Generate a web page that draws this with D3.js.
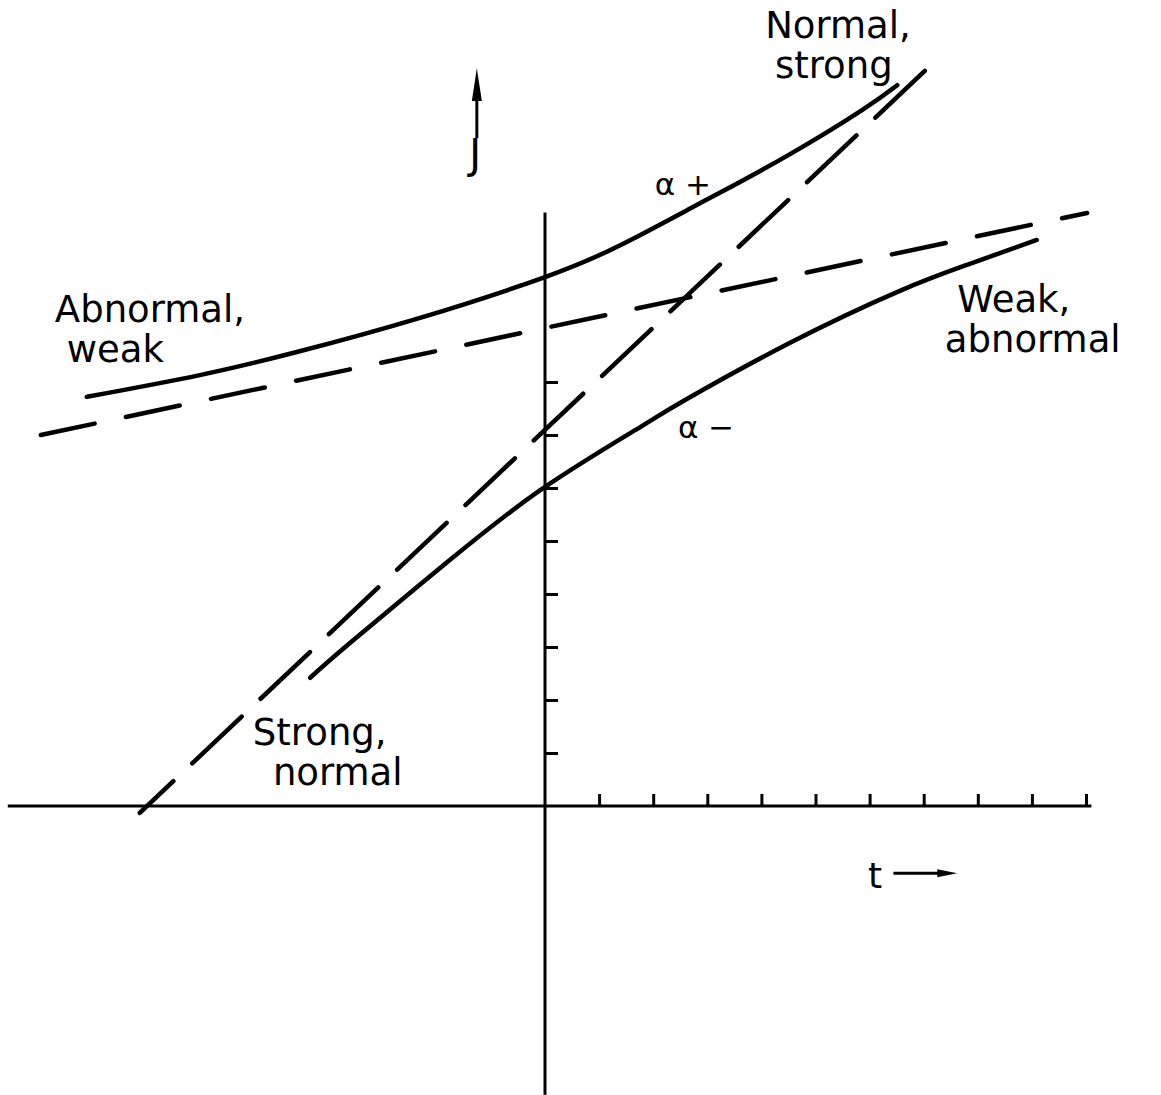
<!DOCTYPE html>
<html>
<head>
<meta charset="utf-8">
<script src="https://cdn.jsdelivr.net/npm/d3@7"></script>
<style>
  html, body { margin: 0; padding: 0; background: #fff; }
  svg text { font-family: "DejaVu Sans", sans-serif; fill: #000; }
</style>
</head>
<body>
<div id="chart"></div>
<script>
"use strict";

// t ticks and J ticks (one unit per tick mark)
var tTicks = [1, 2, 3, 4, 5, 6, 7, 8, 9, 10];
var jTicks = [1, 2, 3, 4, 5, 6, 7, 8];

// alpha+ branch (upper solid curve), [t, J]
var alphaPlus = [
  [-8.47, 7.72], [-6.38, 8.13], [-4.57, 8.57], [-2.31, 9.21], [0, 9.98],
  [1.39, 10.58], [2.64, 11.25], [3.23, 11.57], [4.53, 12.3], [5.86, 13.13],
  [6.51, 13.6],
];
// alpha- branch (lower solid curve)
var alphaMinus = [
  [-4.34, 2.42], [-3.6, 3.08], [-1.76, 4.64], [0, 6.02], [1.76, 7.15],
  [2.59, 7.66], [4.53, 8.74], [6.56, 9.72], [7.8, 10.21], [9.09, 10.68],
];
// uncoupled states (dashed straight lines)
var weakLine = [[-9.32, 7.0], [10.02, 11.19]];
var strongLine = [[7.02, 13.87], [-7.49, -0.13]];

// two-line labels: first line at (t, J), second line at (t2, J2)
var labels = [
  { t: -9.06, J: 9.13, t2: -8.84, J2: 8.38, text: "Abnormal,", text2: "weak" },
  { t: 4.07, J: 14.5, t2: 4.25, J2: 13.74, text: "Normal,", text2: "strong" },
  { t: 7.62, J: 9.32, t2: 7.39, J2: 8.57, text: "Weak,", text2: "abnormal" },
  { t: -5.4, J: 1.15, t2: -5.03, J2: 0.39, text: "Strong,", text2: "normal" },
];
var branchLabels = [
  { t: 2.03, J: 11.53, text: "\u03b1 +" },
  { t: 2.46, J: 6.94, text: "\u03b1 \u2212" },
];

var width = 1161,
  height = 1095;

var x = d3.scaleLinear().domain([0, 10]).range([545, 1086]),
  y = d3.scaleLinear().domain([0, 8]).range([806, 382]);

var svg = d3
  .select("#chart")
  .append("svg")
  .attr("width", width)
  .attr("height", height);

// axes
svg
  .append("line")
  .attr("x1", x(-9.93))
  .attr("x2", x(10.1))
  .attr("y1", y(0))
  .attr("y2", y(0))
  .attr("stroke", "#000")
  .attr("stroke-width", 3);

svg
  .append("line")
  .attr("x1", x(0))
  .attr("x2", x(0))
  .attr("y1", y(11.2))
  .attr("y2", y(-5.45))
  .attr("stroke", "#000")
  .attr("stroke-width", 3);

var xAxis = svg
  .append("g")
  .attr("transform", "translate(0," + y(0) + ")")
  .call(d3.axisTop(x).tickValues(tTicks).tickSize(12).tickFormat(""));
var yAxis = svg
  .append("g")
  .attr("transform", "translate(" + x(0) + ",0)")
  .call(d3.axisRight(y).tickValues(jTicks).tickSize(13).tickFormat(""));

[xAxis, yAxis].forEach((g) => {
  g.select(".domain").remove();
  g.selectAll(".tick line").attr("stroke", "#000").attr("stroke-width", 3);
});

var line = d3
  .line()
  .x((d) => x(d[0]))
  .y((d) => y(d[1]));

svg
  .selectAll(".branch")
  .data([alphaPlus, alphaMinus])
  .enter()
  .append("path")
  .attr("class", "branch")
  .attr("d", line.curve(d3.curveNatural))
  .attr("fill", "none")
  .attr("stroke", "#000")
  .attr("stroke-width", 4.5)
  .attr("stroke-linecap", "round");

line.curve(d3.curveLinear);

svg
  .selectAll(".asym")
  .data([
    { pts: weakLine, dash: "55,32" },
    { pts: strongLine, dash: "68,26" },
  ])
  .enter()
  .append("path")
  .attr("class", "asym")
  .attr("d", (d) => line(d.pts))
  .attr("fill", "none")
  .attr("stroke", "#000")
  .attr("stroke-width", 4.5)
  .attr("stroke-linecap", "round")
  .attr("stroke-dasharray", (d) => d.dash);

var lbl = svg
  .selectAll(".label")
  .data(labels)
  .enter()
  .append("text")
  .attr("class", "label")
  .style("font-size", "37px");
lbl
  .append("tspan")
  .attr("x", (d) => x(d.t))
  .attr("y", (d) => y(d.J))
  .text((d) => d.text);
lbl
  .append("tspan")
  .attr("x", (d) => x(d.t2))
  .attr("y", (d) => y(d.J2))
  .text((d) => d.text2);

svg
  .selectAll(".blabel")
  .data(branchLabels)
  .enter()
  .append("text")
  .attr("class", "blabel")
  .attr("x", (d) => x(d.t))
  .attr("y", (d) => y(d.J))
  .style("font-size", "31px")
  .text((d) => d.text);

// J arrow
svg
  .append("line")
  .attr("x1", x(-1.26))
  .attr("x2", x(-1.26))
  .attr("y1", y(12.6))
  .attr("y2", y(13.4))
  .attr("stroke", "#000")
  .attr("stroke-width", 3);
svg
  .append("path")
  .attr(
    "d",
    d3.line()([
      [x(-1.26) - 5, y(13.3)],
      [x(-1.26), y(13.92)],
      [x(-1.26) + 5, y(13.3)],
    ]) + "Z"
  )
  .attr("fill", "#000");
svg
  .append("text")
  .attr("x", x(-1.29))
  .attr("y", y(12.03))
  .attr("text-anchor", "middle")
  .style("font-size", "40px")
  .text("J");

// t arrow
svg
  .append("text")
  .attr("x", x(5.97))
  .attr("y", y(-1.55))
  .style("font-size", "36px")
  .text("t");
svg
  .append("line")
  .attr("x1", x(6.44))
  .attr("x2", x(7.4))
  .attr("y1", y(-1.27))
  .attr("y2", y(-1.27))
  .attr("stroke", "#000")
  .attr("stroke-width", 3);
svg
  .append("path")
  .attr(
    "d",
    d3.line()([
      [x(7.25), y(-1.27) - 4],
      [x(7.62), y(-1.27)],
      [x(7.25), y(-1.27) + 4],
    ]) + "Z"
  )
  .attr("fill", "#000");
</script>
</body>
</html>
